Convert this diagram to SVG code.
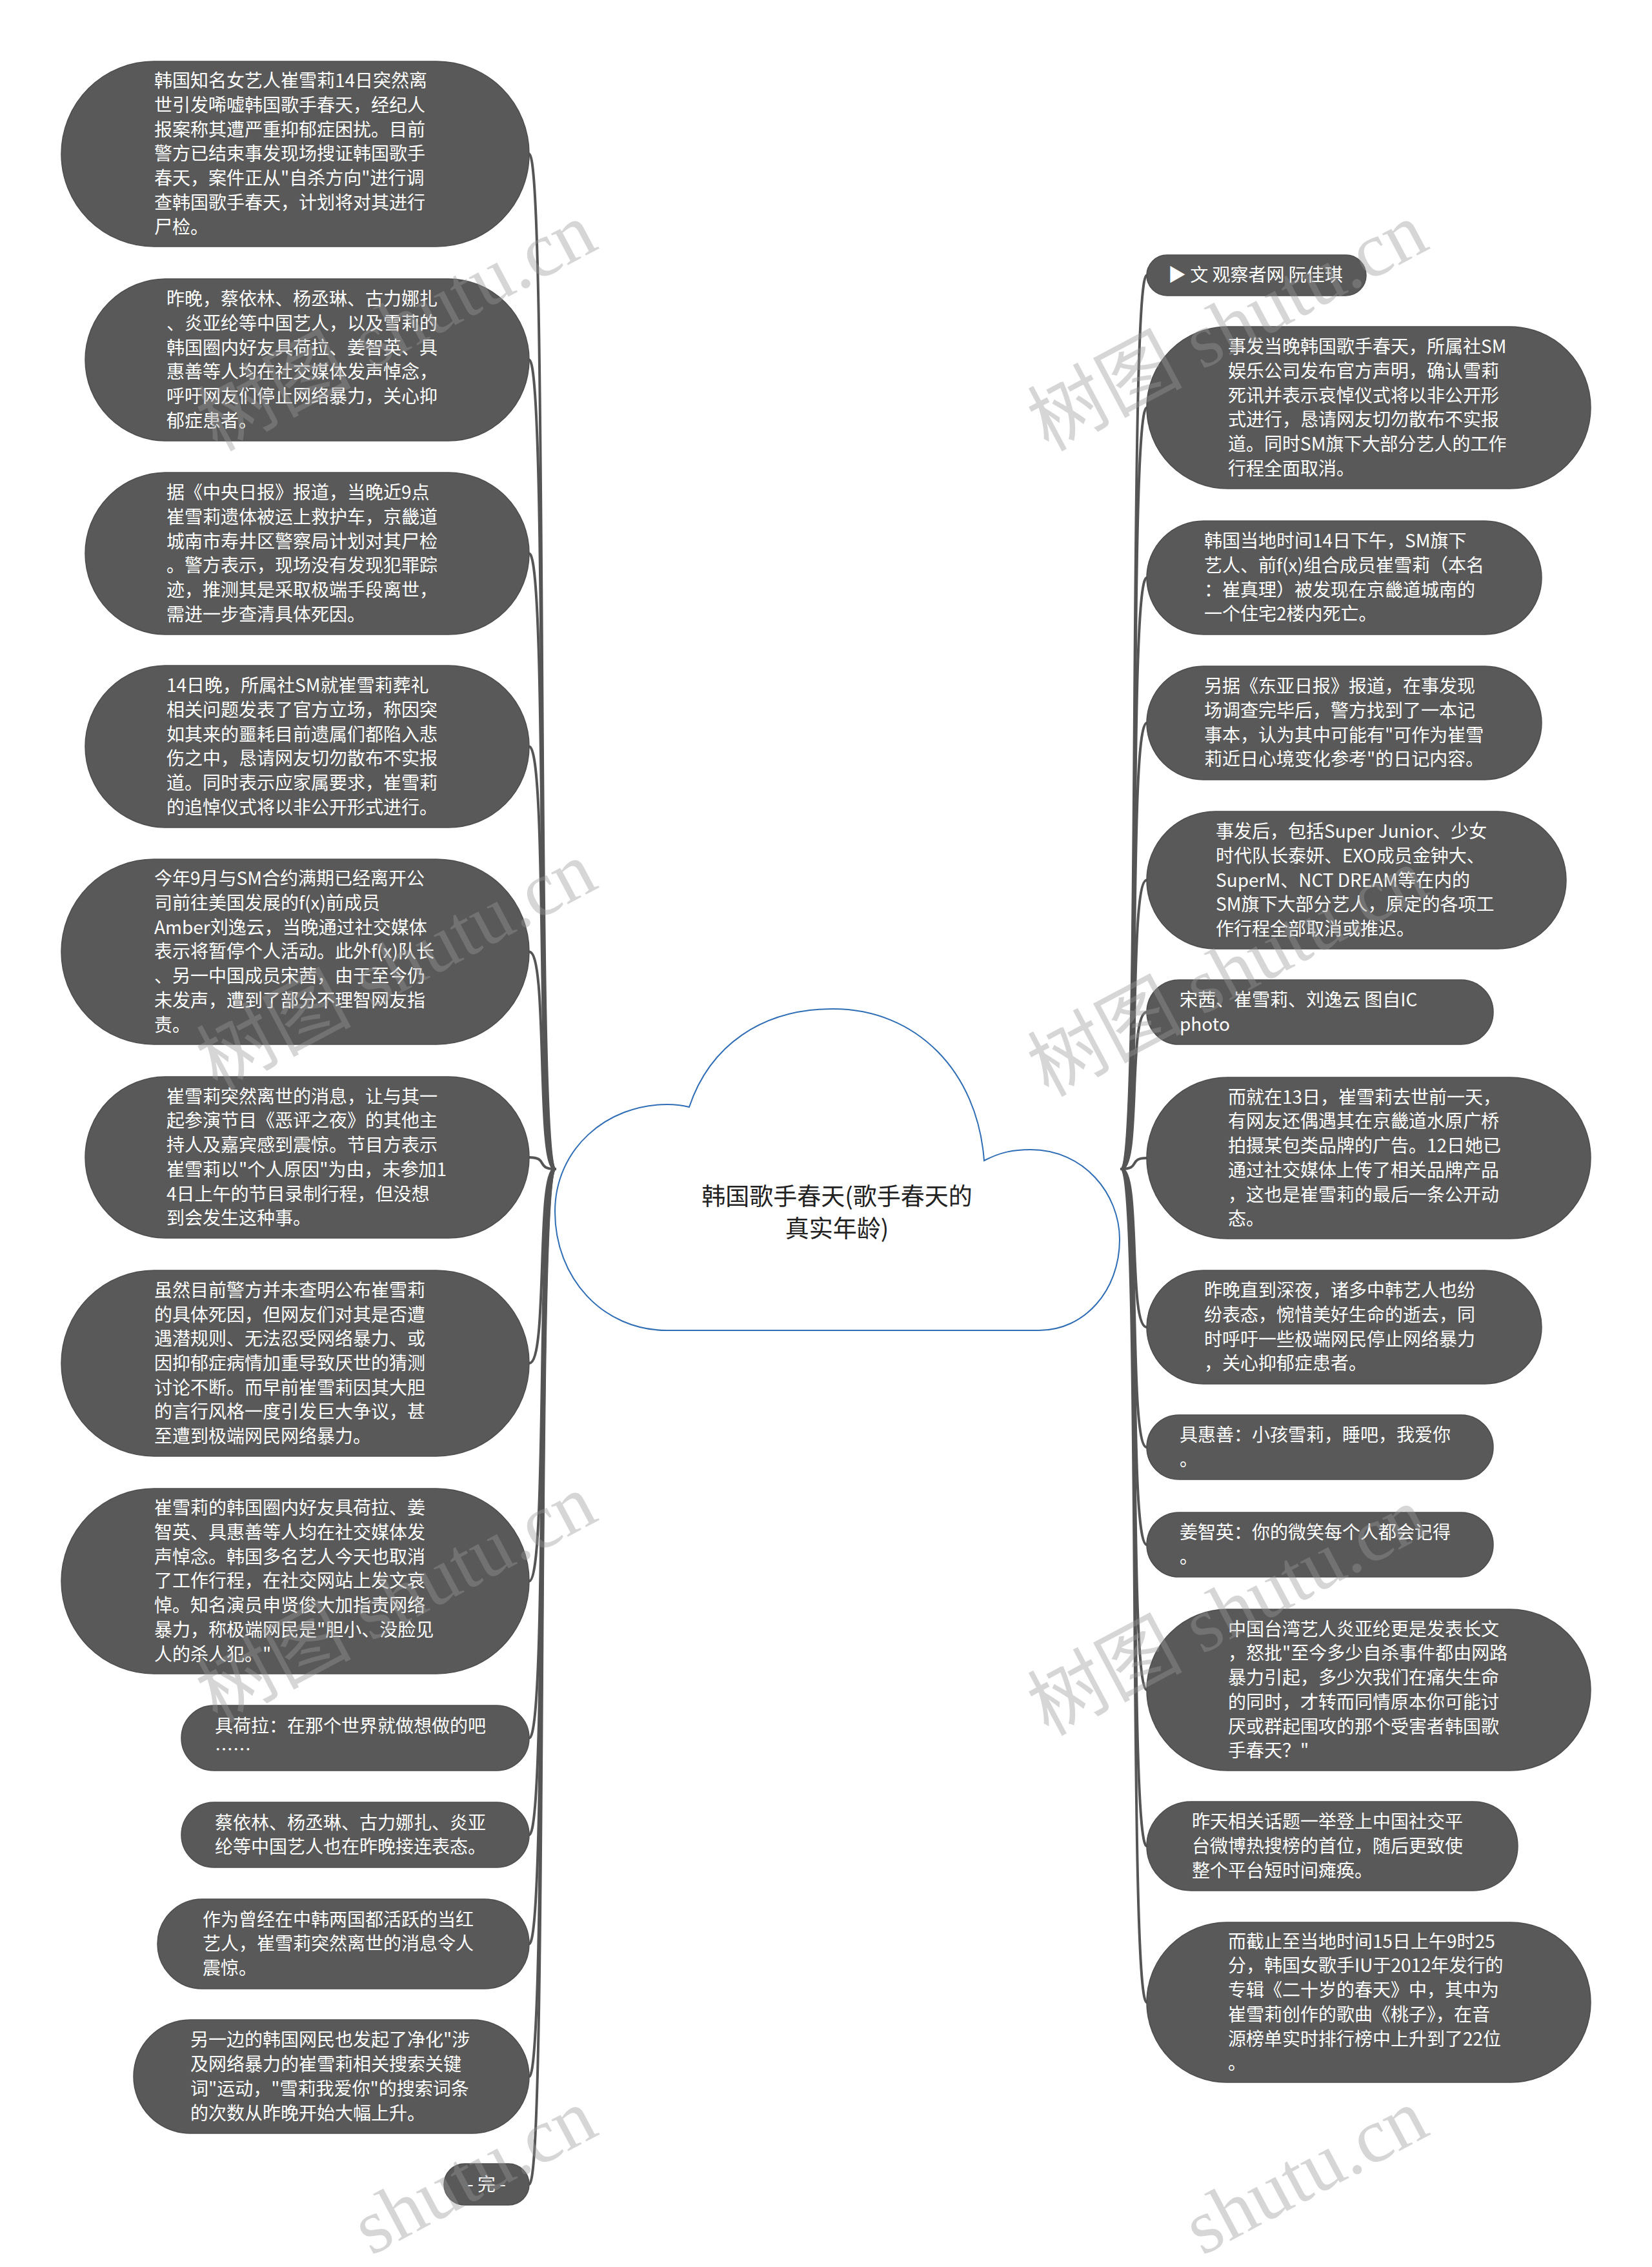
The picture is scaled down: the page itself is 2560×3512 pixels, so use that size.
<svg xmlns="http://www.w3.org/2000/svg" width="2560" height="3512" viewBox="0 0 2560 3512">
<style>
.nd{fill:#595959;stroke:#4d4d4d;stroke-width:1.5}
.t{fill:#ffffff;font-family:"Noto Sans CJK SC","Microsoft YaHei",sans-serif;font-size:28px}
.title{fill:#222;font-family:"Noto Sans CJK SC","Microsoft YaHei",sans-serif;font-size:37px;text-anchor:middle}
.cn{fill:none;stroke:#555555;stroke-width:4;stroke-linecap:round}
.wm{fill:#989898;fill-opacity:0.4;font-family:"Liberation Serif","Noto Sans CJK SC",serif;font-size:120px}
</style>
<rect width="2560" height="3512" fill="#ffffff"/>
<g id="connectors">
<path class="cn" d="M860,1811 C830,1811 850,238.5 820,238.5"/>
<path class="cn" d="M860,1811 C830,1811 850,557.5 820,557.5"/>
<path class="cn" d="M860,1811 C830,1811 850,857.5 820,857.5"/>
<path class="cn" d="M860,1811 C830,1811 850,1156.5 820,1156.5"/>
<path class="cn" d="M860,1811 C830,1811 850,1474.5 820,1474.5"/>
<path class="cn" d="M860,1811 C830,1811 850,1793 820,1793"/>
<path class="cn" d="M860,1811 C830,1811 850,2112 820,2112"/>
<path class="cn" d="M860,1811 C830,1811 850,2449.5 820,2449.5"/>
<path class="cn" d="M860,1811 C830,1811 850,2692.5 820,2692.5"/>
<path class="cn" d="M860,1811 C830,1811 850,2842.5 820,2842.5"/>
<path class="cn" d="M860,1811 C830,1811 850,3011.5 820,3011.5"/>
<path class="cn" d="M860,1811 C830,1811 850,3217 820,3217"/>
<path class="cn" d="M860,1811 C830,1811 850,3384 820,3384"/>
<path class="cn" d="M1738,1811 C1768,1811 1748,426.5 1777,426.5"/>
<path class="cn" d="M1738,1811 C1768,1811 1748,631.5 1777,631.5"/>
<path class="cn" d="M1738,1811 C1768,1811 1748,895 1777,895"/>
<path class="cn" d="M1738,1811 C1768,1811 1748,1120 1777,1120"/>
<path class="cn" d="M1738,1811 C1768,1811 1748,1363.5 1777,1363.5"/>
<path class="cn" d="M1738,1811 C1768,1811 1748,1568 1777,1568"/>
<path class="cn" d="M1738,1811 C1768,1811 1748,1794 1777,1794"/>
<path class="cn" d="M1738,1811 C1768,1811 1748,2056 1777,2056"/>
<path class="cn" d="M1738,1811 C1768,1811 1748,2242 1777,2242"/>
<path class="cn" d="M1738,1811 C1768,1811 1748,2393 1777,2393"/>
<path class="cn" d="M1738,1811 C1768,1811 1748,2618 1777,2618"/>
<path class="cn" d="M1738,1811 C1768,1811 1748,2860 1777,2860"/>
<path class="cn" d="M1738,1811 C1768,1811 1748,3102 1777,3102"/>
</g>
<g id="root">
<path d="M1034,2061 C934,2061 860,1980 860,1877 C860,1780 940,1711 1034,1711 Q1052,1711 1068,1715 C1100,1620 1180,1563 1291,1563 C1420,1563 1515,1660 1525,1798 C1550,1785 1570,1781 1597,1781 C1680,1781 1735,1850 1735,1920 C1735,2000 1680,2061 1610,2061 Z" fill="#ffffff" stroke="#2f6db5" stroke-width="2"/>
<text class="title" x="1297" y="1867">韩国歌手春天(歌手春天的</text>
<text class="title" x="1297" y="1917">真实年龄)</text>
</g>
<g id="L1"><rect class="nd" x="95" y="95" width="725" height="287" rx="143.5"/>
<text class="t"><tspan x="239" y="135">韩国知名女艺人崔雪莉14日突然离</tspan><tspan x="239" y="173">世引发唏嘘韩国歌手春天，经纪人</tspan><tspan x="239" y="211">报案称其遭严重抑郁症困扰。目前</tspan><tspan x="239" y="248">警方已结束事发现场搜证韩国歌手</tspan><tspan x="239" y="286">春天，案件正从"自杀方向"进行调</tspan><tspan x="239" y="324">查韩国歌手春天，计划将对其进行</tspan><tspan x="239" y="362">尸检。</tspan></text></g>
<g id="L2"><rect class="nd" x="132" y="432" width="688" height="251" rx="125.5"/>
<text class="t"><tspan x="258" y="473">昨晚，蔡依林、杨丞琳、古力娜扎</tspan><tspan x="258" y="511">、炎亚纶等中国艺人，以及雪莉的</tspan><tspan x="258" y="549">韩国圈内好友具荷拉、姜智英、具</tspan><tspan x="258" y="586">惠善等人均在社交媒体发声悼念，</tspan><tspan x="258" y="624">呼吁网友们停止网络暴力，关心抑</tspan><tspan x="258" y="662">郁症患者。</tspan></text></g>
<g id="L3"><rect class="nd" x="132" y="732" width="688" height="251" rx="125.5"/>
<text class="t"><tspan x="258" y="773">据《中央日报》报道，当晚近9点</tspan><tspan x="258" y="811">崔雪莉遗体被运上救护车，京畿道</tspan><tspan x="258" y="849">城南市寿井区警察局计划对其尸检</tspan><tspan x="258" y="886">。警方表示，现场没有发现犯罪踪</tspan><tspan x="258" y="924">迹，推测其是采取极端手段离世，</tspan><tspan x="258" y="962">需进一步查清具体死因。</tspan></text></g>
<g id="L4"><rect class="nd" x="132" y="1031" width="688" height="251" rx="125.5"/>
<text class="t"><tspan x="258" y="1072">14日晚，所属社SM就崔雪莉葬礼</tspan><tspan x="258" y="1110">相关问题发表了官方立场，称因突</tspan><tspan x="258" y="1148">如其来的噩耗目前遗属们都陷入悲</tspan><tspan x="258" y="1185">伤之中，恳请网友切勿散布不实报</tspan><tspan x="258" y="1223">道。同时表示应家属要求，崔雪莉</tspan><tspan x="258" y="1261">的追悼仪式将以非公开形式进行。</tspan></text></g>
<g id="L5"><rect class="nd" x="95" y="1331" width="725" height="287" rx="143.5"/>
<text class="t"><tspan x="239" y="1371">今年9月与SM合约满期已经离开公</tspan><tspan x="239" y="1409">司前往美国发展的f(x)前成员</tspan><tspan x="239" y="1447">Amber刘逸云，当晚通过社交媒体</tspan><tspan x="239" y="1484">表示将暂停个人活动。此外f(x)队长</tspan><tspan x="239" y="1522">、另一中国成员宋茜，由于至今仍</tspan><tspan x="239" y="1560">未发声，遭到了部分不理智网友指</tspan><tspan x="239" y="1598">责。</tspan></text></g>
<g id="L6"><rect class="nd" x="132" y="1668" width="688" height="250" rx="125"/>
<text class="t"><tspan x="258" y="1709">崔雪莉突然离世的消息，让与其一</tspan><tspan x="258" y="1746">起参演节目《恶评之夜》的其他主</tspan><tspan x="258" y="1784">持人及嘉宾感到震惊。节目方表示</tspan><tspan x="258" y="1822">崔雪莉以"个人原因"为由，未参加1</tspan><tspan x="258" y="1860">4日上午的节目录制行程，但没想</tspan><tspan x="258" y="1897">到会发生这种事。</tspan></text></g>
<g id="L7"><rect class="nd" x="95" y="1968" width="725" height="288" rx="144"/>
<text class="t"><tspan x="239" y="2009">虽然目前警方并未查明公布崔雪莉</tspan><tspan x="239" y="2047">的具体死因，但网友们对其是否遭</tspan><tspan x="239" y="2084">遇潜规则、无法忍受网络暴力、或</tspan><tspan x="239" y="2122">因抑郁症病情加重导致厌世的猜测</tspan><tspan x="239" y="2160">讨论不断。而早前崔雪莉因其大胆</tspan><tspan x="239" y="2197">的言行风格一度引发巨大争议，甚</tspan><tspan x="239" y="2235">至遭到极端网民网络暴力。</tspan></text></g>
<g id="L8"><rect class="nd" x="95" y="2306" width="725" height="287" rx="143.5"/>
<text class="t"><tspan x="239" y="2346">崔雪莉的韩国圈内好友具荷拉、姜</tspan><tspan x="239" y="2384">智英、具惠善等人均在社交媒体发</tspan><tspan x="239" y="2422">声悼念。韩国多名艺人今天也取消</tspan><tspan x="239" y="2459">了工作行程，在社交网站上发文哀</tspan><tspan x="239" y="2497">悼。知名演员申贤俊大加指责网络</tspan><tspan x="239" y="2535">暴力，称极端网民是"胆小、没脸见</tspan><tspan x="239" y="2573">人的杀人犯。"</tspan></text></g>
<g id="L9"><rect class="nd" x="281" y="2642" width="539" height="101" rx="50.5"/>
<text class="t"><tspan x="333" y="2684">具荷拉：在那个世界就做想做的吧</tspan><tspan x="333" y="2721">……</tspan></text></g>
<g id="L10"><rect class="nd" x="281" y="2792" width="539" height="101" rx="50.5"/>
<text class="t"><tspan x="333" y="2834">蔡依林、杨丞琳、古力娜扎、炎亚</tspan><tspan x="333" y="2871">纶等中国艺人也在昨晚接连表态。</tspan></text></g>
<g id="L11"><rect class="nd" x="244" y="2942" width="576" height="139" rx="69.5"/>
<text class="t"><tspan x="314" y="2984">作为曾经在中韩两国都活跃的当红</tspan><tspan x="314" y="3021">艺人，崔雪莉突然离世的消息令人</tspan><tspan x="314" y="3059">震惊。</tspan></text></g>
<g id="L12"><rect class="nd" x="207" y="3129" width="613" height="176" rx="88"/>
<text class="t"><tspan x="295" y="3170">另一边的韩国网民也发起了净化"涉</tspan><tspan x="295" y="3208">及网络暴力的崔雪莉相关搜索关键</tspan><tspan x="295" y="3246">词"运动，"雪莉我爱你"的搜索词条</tspan><tspan x="295" y="3284">的次数从昨晚开始大幅上升。</tspan></text></g>
<g id="L13"><rect class="nd" x="688" y="3352" width="132" height="64" rx="32"/>
<text class="t" x="754" y="3394" text-anchor="middle">- 完 -</text></g>
<g id="R1"><rect class="nd" x="1777" y="395" width="340" height="63" rx="31.5"/>
<text class="t" x="1810" y="436">▶ 文 观察者网 阮佳琪</text></g>
<g id="R2"><rect class="nd" x="1777" y="506" width="688" height="251" rx="125.5"/>
<text class="t"><tspan x="1903" y="547">事发当晚韩国歌手春天，所属社SM</tspan><tspan x="1903" y="585">娱乐公司发布官方声明，确认雪莉</tspan><tspan x="1903" y="623">死讯并表示哀悼仪式将以非公开形</tspan><tspan x="1903" y="660">式进行，恳请网友切勿散布不实报</tspan><tspan x="1903" y="698">道。同时SM旗下大部分艺人的工作</tspan><tspan x="1903" y="736">行程全面取消。</tspan></text></g>
<g id="R3"><rect class="nd" x="1777" y="807" width="612" height="176" rx="88"/>
<text class="t"><tspan x="1866" y="848">韩国当地时间14日下午，SM旗下</tspan><tspan x="1866" y="886">艺人、前f(x)组合成员崔雪莉（本名</tspan><tspan x="1866" y="924">：崔真理）被发现在京畿道城南的</tspan><tspan x="1866" y="961">一个住宅2楼内死亡。</tspan></text></g>
<g id="R4"><rect class="nd" x="1777" y="1032" width="612" height="176" rx="88"/>
<text class="t"><tspan x="1866" y="1073">另据《东亚日报》报道，在事发现</tspan><tspan x="1866" y="1111">场调查完毕后，警方找到了一本记</tspan><tspan x="1866" y="1149">事本，认为其中可能有"可作为崔雪</tspan><tspan x="1866" y="1186">莉近日心境变化参考"的日记内容。</tspan></text></g>
<g id="R5"><rect class="nd" x="1777" y="1257" width="650" height="213" rx="106.5"/>
<text class="t"><tspan x="1884" y="1298">事发后，包括Super Junior、少女</tspan><tspan x="1884" y="1336">时代队长泰妍、EXO成员金钟大、</tspan><tspan x="1884" y="1374">SuperM、NCT DREAM等在内的</tspan><tspan x="1884" y="1411">SM旗下大部分艺人，原定的各项工</tspan><tspan x="1884" y="1449">作行程全部取消或推迟。</tspan></text></g>
<g id="R6"><rect class="nd" x="1777" y="1518" width="537" height="100" rx="50"/>
<text class="t"><tspan x="1828" y="1559">宋茜、崔雪莉、刘逸云 图自IC</tspan><tspan x="1828" y="1597">photo</tspan></text></g>
<g id="R7"><rect class="nd" x="1777" y="1669" width="688" height="250" rx="125"/>
<text class="t"><tspan x="1903" y="1710">而就在13日，崔雪莉去世前一天，</tspan><tspan x="1903" y="1747">有网友还偶遇其在京畿道水原广桥</tspan><tspan x="1903" y="1785">拍摄某包类品牌的广告。12日她已</tspan><tspan x="1903" y="1823">通过社交媒体上传了相关品牌产品</tspan><tspan x="1903" y="1861">，这也是崔雪莉的最后一条公开动</tspan><tspan x="1903" y="1898">态。</tspan></text></g>
<g id="R8"><rect class="nd" x="1777" y="1968" width="612" height="176" rx="88"/>
<text class="t"><tspan x="1866" y="2009">昨晚直到深夜，诸多中韩艺人也纷</tspan><tspan x="1866" y="2047">纷表态，惋惜美好生命的逝去，同</tspan><tspan x="1866" y="2085">时呼吁一些极端网民停止网络暴力</tspan><tspan x="1866" y="2122">，关心抑郁症患者。</tspan></text></g>
<g id="R9"><rect class="nd" x="1777" y="2192" width="537" height="100" rx="50"/>
<text class="t"><tspan x="1828" y="2233">具惠善：小孩雪莉，睡吧，我爱你</tspan><tspan x="1828" y="2271">。</tspan></text></g>
<g id="R10"><rect class="nd" x="1777" y="2343" width="537" height="100" rx="50"/>
<text class="t"><tspan x="1828" y="2384">姜智英：你的微笑每个人都会记得</tspan><tspan x="1828" y="2422">。</tspan></text></g>
<g id="R11"><rect class="nd" x="1777" y="2493" width="688" height="250" rx="125"/>
<text class="t"><tspan x="1903" y="2534">中国台湾艺人炎亚纶更是发表长文</tspan><tspan x="1903" y="2571">，怒批"至今多少自杀事件都由网路</tspan><tspan x="1903" y="2609">暴力引起，多少次我们在痛失生命</tspan><tspan x="1903" y="2647">的同时，才转而同情原本你可能讨</tspan><tspan x="1903" y="2685">厌或群起围攻的那个受害者韩国歌</tspan><tspan x="1903" y="2722">手春天？"</tspan></text></g>
<g id="R12"><rect class="nd" x="1777" y="2791" width="575" height="138" rx="69"/>
<text class="t"><tspan x="1847" y="2832">昨天相关话题一举登上中国社交平</tspan><tspan x="1847" y="2870">台微博热搜榜的首位，随后更致使</tspan><tspan x="1847" y="2908">整个平台短时间瘫痪。</tspan></text></g>
<g id="R13"><rect class="nd" x="1777" y="2978" width="688" height="248" rx="124"/>
<text class="t"><tspan x="1903" y="3018">而截止至当地时间15日上午9时25</tspan><tspan x="1903" y="3055">分，韩国女歌手IU于2012年发行的</tspan><tspan x="1903" y="3093">专辑《二十岁的春天》中，其中为</tspan><tspan x="1903" y="3131">崔雪莉创作的歌曲《桃子》，在音</tspan><tspan x="1903" y="3169">源榜单实时排行榜中上升到了22位</tspan><tspan x="1903" y="3206">。</tspan></text></g>
<g id="watermarks">
<text class="wm" transform="translate(336,700) rotate(-28)">树图 shutu.cn</text>
<text class="wm" transform="translate(1624,700) rotate(-28)">树图 shutu.cn</text>
<text class="wm" transform="translate(336,1690) rotate(-28)">树图 shutu.cn</text>
<text class="wm" transform="translate(1624,1700) rotate(-28)">树图 shutu.cn</text>
<text class="wm" transform="translate(336,2670) rotate(-28)">树图 shutu.cn</text>
<text class="wm" transform="translate(1624,2690) rotate(-28)">树图 shutu.cn</text>
<text class="wm" transform="translate(575,3495) rotate(-28)">shutu.cn</text>
<text class="wm" transform="translate(1863,3495) rotate(-28)">shutu.cn</text>
</g>
</svg>
